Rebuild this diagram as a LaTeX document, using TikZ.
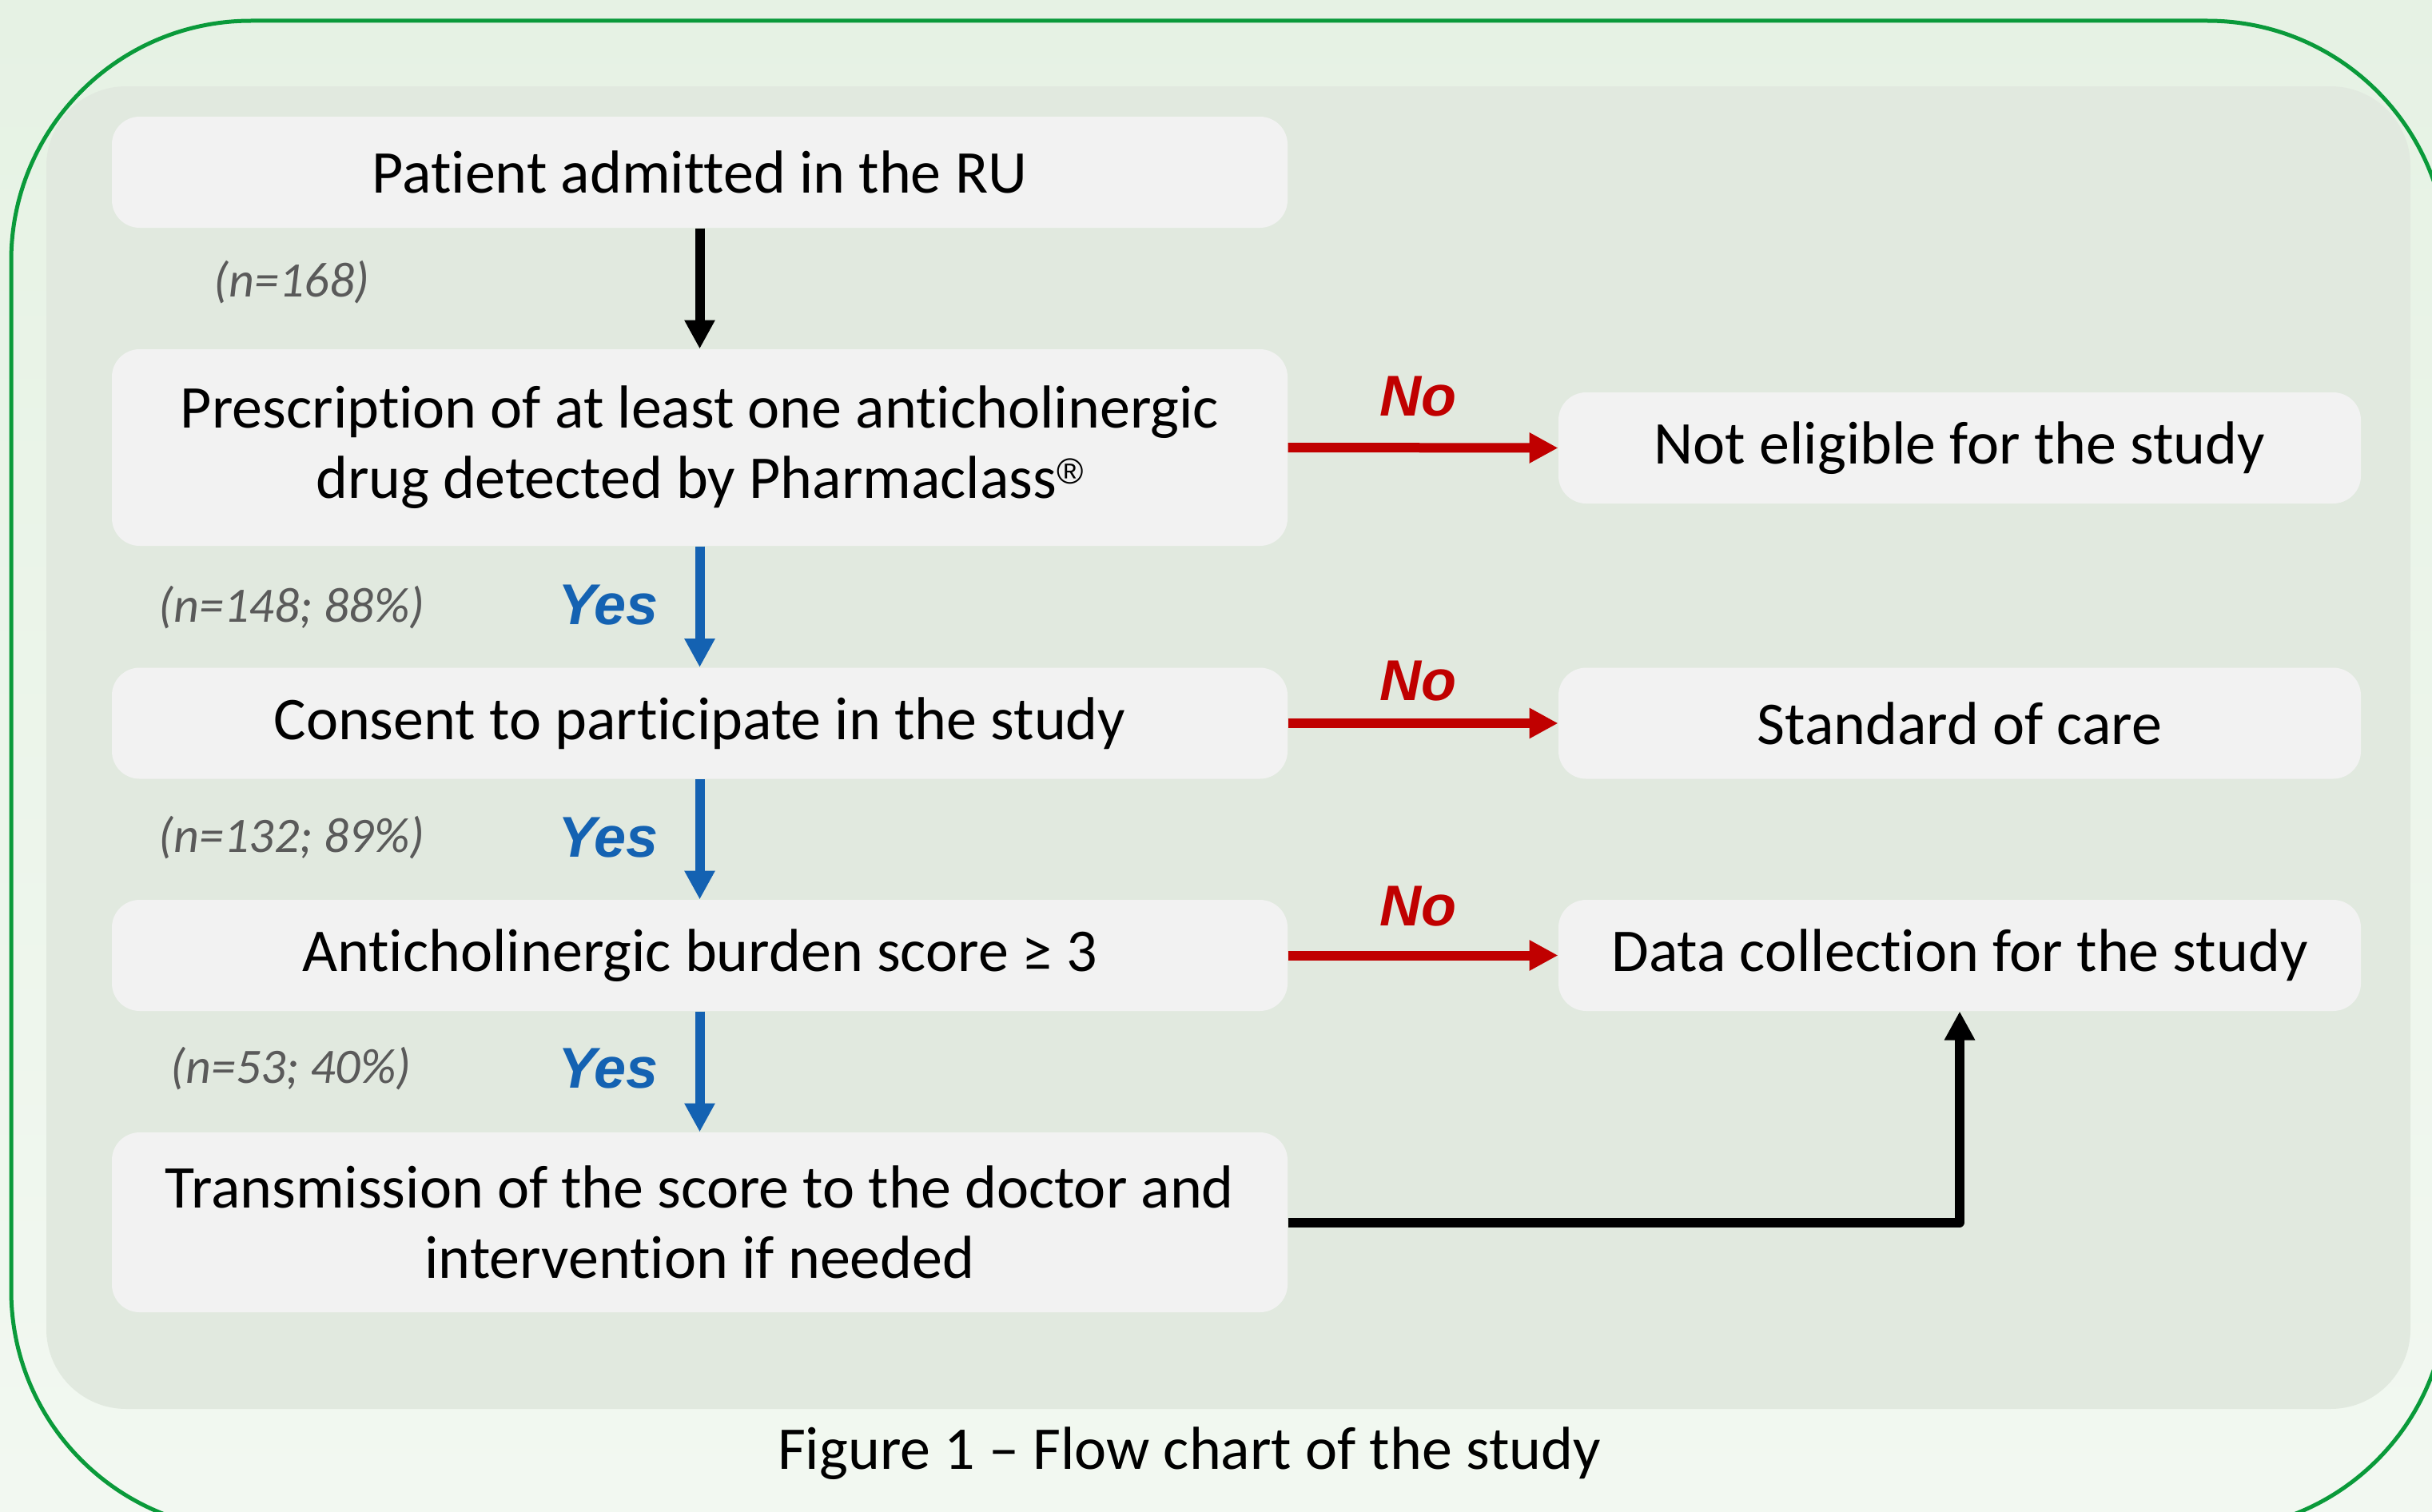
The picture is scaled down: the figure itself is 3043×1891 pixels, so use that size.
\documentclass[tikz,border=0pt]{standalone}
\usepackage{fontspec}
\setmainfont{Carlito}[Ligatures={NoCommon}]
\newfontfamily\arialfont{Liberation Sans}
\usetikzlibrary{arrows.meta}

\definecolor{framegreen}{RGB}{10,154,58}
\definecolor{bgtop}{RGB}{230,242,228}
\definecolor{bgbottom}{RGB}{242,248,241}
\definecolor{panelfill}{RGB}{225,233,223}
\definecolor{boxfill}{RGB}{242,242,242}
\definecolor{noRed}{RGB}{192,0,0}
\definecolor{yesBlue}{RGB}{20,98,178}
\definecolor{countGrey}{RGB}{90,90,90}

\newcommand{\regmark}{\raisebox{14pt}{\arialfont\fontsize{34}{34}\selectfont\textregistered}}

\tikzset{every picture/.style={line width=0.75pt}}
\tikzset{
  flowbox/.style={fill=boxfill, rounded corners=26pt, inner sep=0pt, minimum width=1103.25pt,
    minimum height=104.25pt, align=center, font=\fontsize{57}{66}\selectfont},
  sidebox/.style={flowbox, minimum width=753pt},
  yesarrow/.style={draw=yesBlue, line width=9pt, -{Triangle[length=27pt,width=27pt]}},
  noarrow/.style={draw=noRed, line width=9pt, -{Triangle[length=27pt,width=27pt]}},
  blackarrow/.style={draw=black, line width=9pt, line join=round, -{Triangle[length=27pt,width=27pt]}},
  yeslab/.style={text=yesBlue, font=\arialfont\bfseries\itshape\fontsize{54}{60}\selectfont},
  nolab/.style={text=noRed, font=\arialfont\bfseries\itshape\fontsize{54}{60}\selectfont},
  countlab/.style={text=countGrey, font=\itshape\fontsize{46.5}{55}\selectfont}
}

\begin{document}
\begin{tikzpicture}[x=0.75pt,y=0.75pt,yscale=-1,xscale=1]
        \useasboundingbox (0,0) rectangle (3043,1891);
        \clip (0,0) rectangle (3043,1891);

        %Background and frame
        \shade[top color=bgtop, bottom color=bgbottom] (0,0) rectangle (3043,1891);
        \draw[framegreen, line width=3.75pt, rounded corners=225pt] (14,26) rectangle (3062,1915);
        \fill[panelfill, rounded corners=75pt] (58,108) rectangle (3016,1763);

        %Boxes of the main column
        \node[flowbox] (patient) at (875.5,215.5) {Patient admitted in the RU};
        \node[flowbox, minimum height=184.5pt] (prescr) at (875.5,560) {Prescription of at least one anticholinergic\\drug detected by Pharmaclass\regmark};
        \node[flowbox] (consent) at (875.5,905) {Consent to participate in the study};
        \node[flowbox] (burden) at (875.5,1195.5) {Anticholinergic burden score ≥ 3};
        \node[flowbox, minimum height=168.75pt] (transm) at (875.5,1529.5) {Transmission of the score to the doctor and\\intervention if needed};

        %Boxes on the right
        \node[sidebox] (notelig) at (2452,560.5) {Not eligible for the study};
        \node[sidebox] (standard) at (2452,905) {Standard of care};
        \node[sidebox] (datacoll) at (2452,1195.5) {Data collection for the study};

        %Arrows
        \draw[blackarrow] (patient.south) -- (prescr.north);
        \draw[yesarrow] (prescr.south) -- (consent.north);
        \draw[yesarrow] (consent.south) -- (burden.north);
        \draw[yesarrow] (burden.south) -- (transm.north);
        \draw[noarrow] (prescr.east) -- (notelig.west);
        \draw[noarrow] (consent.east) -- (standard.west);
        \draw[noarrow] (burden.east) -- (datacoll.west);
        \draw[blackarrow] (transm.east) -| (datacoll.south);

        %Labels
        \node[countlab] (count1) at (365,353) {(n=168)};
        \node[countlab] (count2) at (365,760) {(n=148; 88\%)};
        \node[countlab] (count3) at (365,1048) {(n=132; 89\%)};
        \node[countlab] (count4) at (364,1337) {(n=53; 40\%)};
        \node[yeslab] (yes1) at (761,757) {Yes};
        \node[yeslab] (yes2) at (761,1048) {Yes};
        \node[yeslab] (yes3) at (761,1337) {Yes};
        \node[nolab] (no1) at (1774,496) {No};
        \node[nolab] (no2) at (1774,852) {No};
        \node[nolab] (no3) at (1774,1134) {No};

        \node[anchor=base, font=\fontsize{57}{66}\selectfont] (caption) at (1488,1838) {Figure 1 – Flow chart of the study};

\end{tikzpicture}
\end{document}
